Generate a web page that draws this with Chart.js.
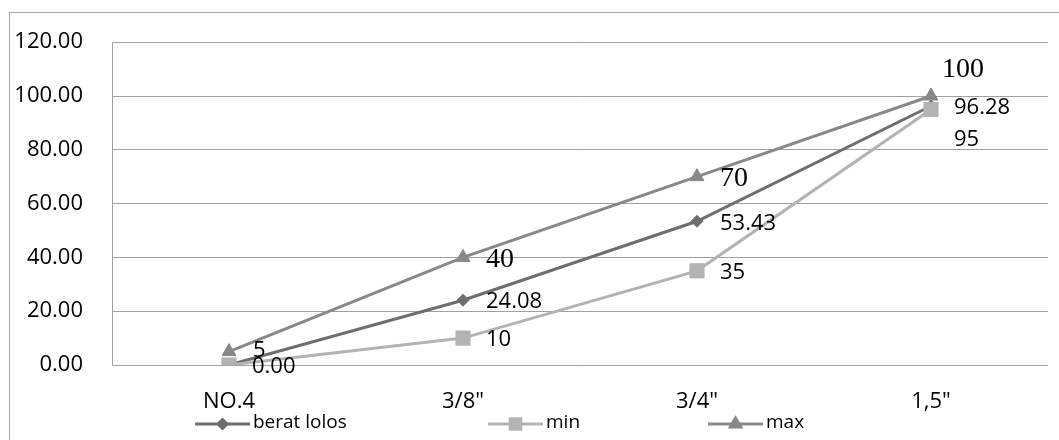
<!DOCTYPE html>
<html>
<head>
<meta charset="utf-8">
<script src="https://cdn.jsdelivr.net/npm/chart.js@4.4.1/dist/chart.umd.min.js"></script>
<style>
  html, body { margin: 0; padding: 0; background: #fff; }
  #wrap { width: 1059px; height: 440px; position: relative; }
</style>
</head>
<body>
<div id="wrap"><canvas id="chart"></canvas></div>
<script>
const categories = ['NO.4', '3/8"', '3/4"', '1,5"'];
const beratLolos = [0, 24.08, 53.43, 96.28];
const minValues = [0, 10, 35, 95];
const maxValues = [5, 40, 70, 100];

// value labels as printed next to the points
const beratLabels = ['0.00', '24.08', '53.43', '96.28'];
const minLabels = [null, '10', '35', '95'];
const maxLabels = ['5', '40', '70', '100'];

const yTicks = [0, 20, 40, 60, 80, 100, 120];

const SANS = '"Open Sans", "DejaVu Sans", sans-serif';
const SERIF = '"Liberation Serif", "DejaVu Serif", serif';

// draws the grey frame round the whole chart
const frame = {
  id: 'frame',
  beforeDraw(chart) {
    const ctx = chart.ctx;
    ctx.save();
    ctx.fillStyle = '#fff';
    ctx.fillRect(0, 0, chart.width, chart.height);
    ctx.strokeStyle = '#a6a6a6';
    ctx.lineWidth = 1;
    ctx.strokeRect(9.5, 12.5, chart.width + 10, chart.height + 10);
    ctx.restore();
  }
};

// text next to each point
const valueLabels = {
  id: 'valueLabels',
  afterDatasetsDraw(chart) {
    const ctx = chart.ctx;
    ctx.save();
    ctx.fillStyle = '#000';
    ctx.textAlign = 'left';
    ctx.textBaseline = 'middle';
    chart.data.datasets.forEach((ds, di) => {
      chart.getDatasetMeta(di).data.forEach((pt, i) => {
        const text = ds.valueLabels[i];
        if (text == null) return;
        const off = (ds.labelOffsets && ds.labelOffsets[i]) || [23, 1];
        const serif = ds.serifLabels && ds.serifLabels[i];
        ctx.font = serif ? '28px ' + SERIF : '22px ' + SANS;
        ctx.fillText(text, pt.x + off[0], pt.y + off[1]);
      });
    });
    ctx.restore();
  }
};

// legend laid out like the original, below the axis labels
const bottomLegend = {
  id: 'bottomLegend',
  afterDraw(chart) {
    const ctx = chart.ctx;
    const xs = [195, 488, 708];
    const y = 424;
    ctx.save();
    chart.data.datasets.forEach((ds, i) => {
      const x = xs[i];
      ctx.strokeStyle = ds.borderColor;
      ctx.lineWidth = 3;
      ctx.beginPath();
      ctx.moveTo(x, y);
      ctx.lineTo(x + 55, y);
      ctx.stroke();
      ctx.fillStyle = ds.borderColor;
      Chart.helpers.drawPoint(ctx, {
        pointStyle: ds.pointStyle,
        radius: ds.pointRadius * 0.75,
        rotation: 0,
        borderWidth: 1
      }, x + 27.5, y);
      ctx.fillStyle = '#000';
      ctx.font = '19px ' + SANS;
      ctx.textAlign = 'left';
      ctx.textBaseline = 'middle';
      ctx.fillText(ds.label, x + 58, y - 1);
    });
    ctx.restore();
  }
};

function series(label, data, color, style, radius, order, labels, extra) {
  return Object.assign({
    label: label,
    data: data,
    borderColor: color,
    backgroundColor: color,
    pointBackgroundColor: color,
    pointBorderColor: color,
    pointStyle: style,
    pointRadius: radius,
    pointBorderWidth: 1,
    borderWidth: 3,
    tension: 0,
    fill: false,
    order: order,
    valueLabels: labels
  }, extra || {});
}

new Chart(document.getElementById('chart'), {
  type: 'line',
  data: {
    labels: categories,
    datasets: [
      series('berat lolos', beratLolos, '#6e6e6e', 'rectRot', 6, 3, beratLabels, {
        labelOffsets: [[23, 2], [23, 2], [23, 2], [23, 2]]
      }),
      series('min', minValues, '#b3b3b3', 'rect', 10, 2, minLabels, {
        labelOffsets: [[23, 2], [23, 2], [23, 2], [23, 30]]
      }),
      series('max', maxValues, '#888888', 'triangle', 8, 1, maxLabels, {
        serifLabels: [false, true, true, true],
        labelOffsets: [[24, -1], [23, 2], [23, 2], [11, -26]]
      })
    ]
  },
  options: {
    responsive: true,
    maintainAspectRatio: false,
    animation: false,
    layout: { padding: { left: 0, top: 40, right: 8, bottom: 0 } },
    plugins: {
      legend: { display: false },
      tooltip: { enabled: false }
    },
    scales: {
      x: {
        offset: true,
        grid: { display: false, drawTicks: false, offset: true },
        border: { display: false },
        ticks: {
          color: '#000',
          font: { family: SANS, size: 22 },
          padding: 24,
          maxRotation: 0,
          autoSkip: false
        },
        afterFit(scale) { scale.height = 75; }
      },
      y: {
        min: 0,
        max: 120,
        afterBuildTicks(scale) { scale.ticks = yTicks.map(v => ({ value: v })); },
        ticks: {
          color: '#000',
          font: { family: SANS, size: 22 },
          padding: 29,
          callback: v => Number(v).toFixed(2)
        },
        grid: { color: '#a0a0a0', lineWidth: 1, drawTicks: false },
        border: { display: true, color: '#a0a0a0', width: 1 },
        afterFit(scale) { scale.width = 112; }
      }
    }
  },
  plugins: [frame, valueLabels, bottomLegend]
});
</script>
</body>
</html>
